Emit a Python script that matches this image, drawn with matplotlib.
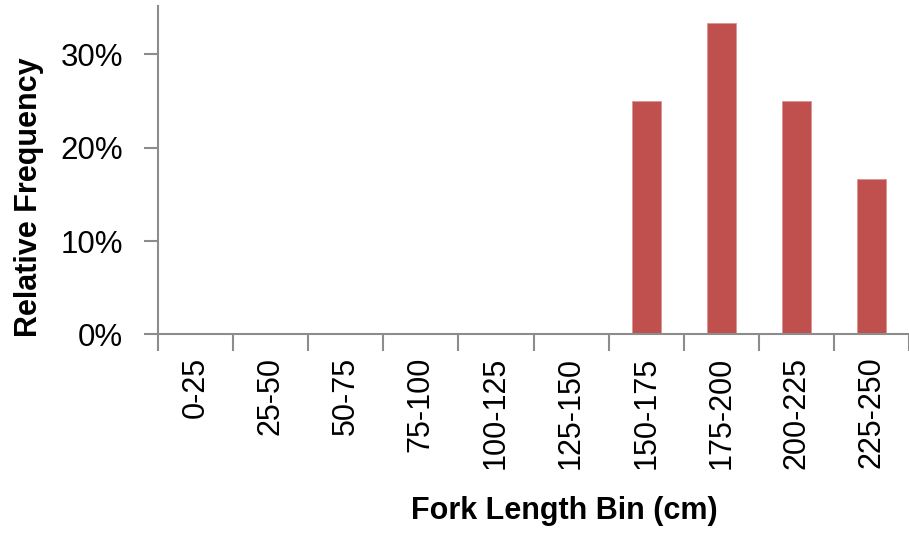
import matplotlib
matplotlib.use("Agg")
import matplotlib.pyplot as plt
from matplotlib.ticker import FuncFormatter, FixedLocator

plt.rcParams['font.family'] = ['Liberation Sans Narrow', 'Liberation Sans', 'DejaVu Sans']

categories = ["0-25", "25-50", "50-75", "75-100", "100-125", "125-150",
              "150-175", "175-200", "200-225", "225-250"]
rel_freq = [0, 0, 0, 0, 0, 0, 0.25, 0.3333, 0.25, 0.1667]
y_ticks = [0, 0.1, 0.2, 0.3]

W, H = 909, 546
fig = plt.figure(figsize=(W / 100, H / 100), dpi=100)
left, right, top, bottom = 158, 909, 6, 334.3
ax = fig.add_axes([left / W, 1 - bottom / H, (right - left) / W, (bottom - top) / H])

x = list(range(len(categories)))
ax.bar(x, rel_freq, width=0.39, color="#C0504D", edgecolor="#D99694", linewidth=0.6, zorder=2)

ax.set_ylim(0, 0.352)
ax.set_xlim(-0.5, 9.5 - 4 / 75.5)

for s in ["top", "right"]:
    ax.spines[s].set_visible(False)
for s in ["left", "bottom"]:
    ax.spines[s].set_color("#8C8C8C")
    ax.spines[s].set_linewidth(1.5)

ax.yaxis.set_major_locator(FixedLocator(y_ticks))
ax.yaxis.set_major_formatter(FuncFormatter(lambda v, p: f"{v*100:.0f}%"))
ax.tick_params(axis="y", which="major", length=10, width=1.5, color="#8C8C8C",
               labelsize=22.5, pad=15, direction="out")

ax.set_xticks(x)
ax.set_xticklabels(categories, rotation=90, fontsize=22)
ax.set_xticks([i - 0.5 for i in range(len(categories) + 1)], minor=True)
ax.tick_params(axis="x", which="major", length=0, pad=16)
ax.tick_params(axis="x", which="minor", length=12, width=1.5, color="#8C8C8C", direction="out")
for lab in ax.get_xticklabels():
    lab.set_va("top")

fig.text(564 / W, 1 - 511 / H, "Fork Length Bin (cm)", ha="center", va="center",
         fontsize=22, fontweight="bold")
fig.text(29 / W, 1 - 197 / H, "Relative Frequency", ha="center", va="center",
         rotation=90, fontsize=22, fontweight="bold")

fig.savefig("out.png", dpi=100, facecolor="white")
